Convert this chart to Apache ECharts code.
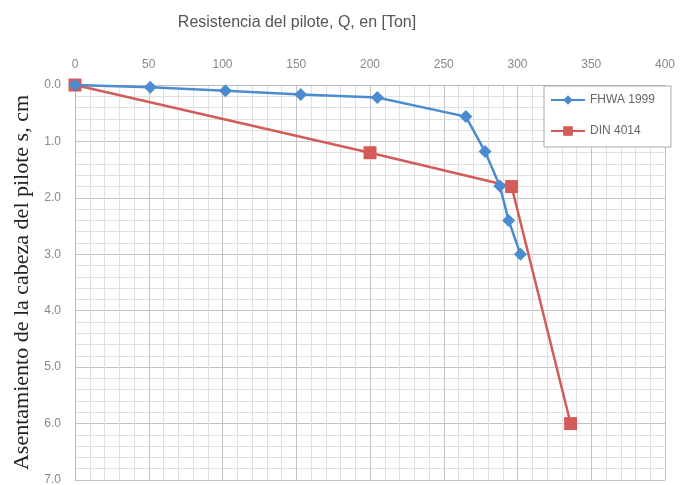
<!DOCTYPE html>
<html><head><meta charset="utf-8">
<script src="https://cdn.jsdelivr.net/npm/echarts@6/dist/echarts.min.js"></script>
<style>html,body{margin:0;padding:0;background:#fff}#c{width:685px;height:485px}</style>
</head><body><div id="c"></div>
<script>
const fhwaQ = [0, 51, 102, 153, 205, 265, 278, 288, 294, 302];
const fhwaS = [0, 0.04, 0.1, 0.17, 0.22, 0.56, 1.18, 1.79, 2.4, 3.0];
const dinQ = [0, 200, 296, 336];
const dinS = [0, 1.2, 1.8, 6.0];
const seriesNames = ['FHWA 1999', 'DIN 4014'];
const xTitle = 'Resistencia del pilote, Q, en [Ton]';
const yTitle = 'Asentamiento de la cabeza del pilote s, cm';

const chart = echarts.init(document.getElementById('c'));
const gridStyle = {show:true, lineStyle:{color:'#c4c4c4', width:1}};
const minorStyle = {show:true, lineStyle:{color:'#e0e0e0', width:1}};
chart.setOption({
  animation:false,
  backgroundColor:'#fff',
  title:{text:xTitle, left:292, top:10, textAlign:'center',
    textStyle:{fontFamily:'Liberation Sans', fontSize:16, fontWeight:'normal', color:'#555'}},
  legend:{
    data:seriesNames,
    orient:'vertical', left:544, top:86, itemWidth:34, itemHeight:12, itemGap:19,
    padding:[8,16,10,6], backgroundColor:'#fff', borderColor:'#aaa', borderWidth:1,
    textStyle:{fontFamily:'Liberation Sans', fontSize:12, color:'#666'}
  },
  grid:{left:75, right:20, top:85, bottom:5, containLabel:false, outerBoundsMode:'none'},
  xAxis:{type:'value', position:'top', min:0, max:400, interval:50,
    axisLine:{show:true, lineStyle:{color:'#bbb'}}, axisTick:{show:false},
    axisLabel:{color:'#888', fontSize:12, fontFamily:'Liberation Sans', margin:14},
    splitLine:gridStyle, minorTick:{show:false, splitNumber:5}, minorSplitLine:minorStyle},
  yAxis:{type:'value', inverse:true, min:0, max:7, interval:1,
    name:yTitle, nameLocation:'middle', nameRotate:90, nameGap:42,
    nameTextStyle:{fontFamily:'Liberation Serif', fontSize:22, color:'#222'},
    axisLine:{show:true, lineStyle:{color:'#bbb'}}, axisTick:{show:false},
    axisLabel:{color:'#888', fontSize:12, fontFamily:'Liberation Sans', margin:14,
      formatter:v=>v.toFixed(1)},
    splitLine:gridStyle, minorTick:{show:false, splitNumber:5}, minorSplitLine:minorStyle},
  series:[
    {name:seriesNames[0], type:'line', symbol:'diamond', symbolSize:13,
     data:fhwaQ.map((q,i)=>[q,fhwaS[i]]),
     lineStyle:{color:'#4a8ccf', width:2.5}, itemStyle:{color:'#4a8ccf'}, z:3},
    {name:seriesNames[1], type:'line', symbol:'rect', symbolSize:13,
     data:dinQ.map((q,i)=>[q,dinS[i]]),
     lineStyle:{color:'#d35b58', width:2.5}, itemStyle:{color:'#d35b58'}, z:2}
  ]
});
</script></body></html>
